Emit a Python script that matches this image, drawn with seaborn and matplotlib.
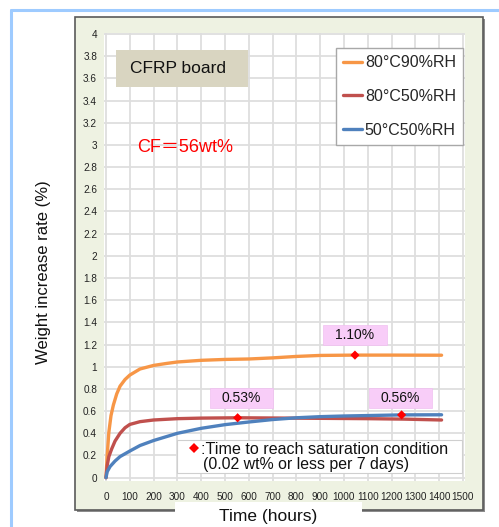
import matplotlib
matplotlib.use("Agg")
import matplotlib.pyplot as plt
from matplotlib.patches import Rectangle
from matplotlib.lines import Line2D
import seaborn as sns
import pandas as pd

# ---------------- data ----------------
t_orange = [0, 5, 12, 21, 31, 45, 59, 80, 100, 143, 200, 255, 300, 400, 500, 600, 700, 800, 900, 1046, 1200, 1410]
v_orange = [0, 0.20, 0.41, 0.56, 0.655, 0.755, 0.825, 0.885, 0.925, 0.98, 1.012, 1.03, 1.043, 1.058, 1.066, 1.07, 1.08, 1.093, 1.102, 1.105, 1.105, 1.104]

t_red = [0, 5, 12, 24, 38, 59, 80, 100, 143, 200, 300, 400, 553, 700, 900, 1100, 1250, 1410]
v_red = [0, 0.11, 0.19, 0.26, 0.33, 0.40, 0.45, 0.48, 0.505, 0.52, 0.532, 0.537, 0.54, 0.538, 0.535, 0.532, 0.528, 0.52]

t_blue = [0, 5, 17, 38, 59, 100, 143, 200, 300, 400, 500, 600, 700, 800, 900, 1000, 1100, 1242, 1410]
v_blue = [0, 0.054, 0.10, 0.15, 0.19, 0.24, 0.29, 0.335, 0.40, 0.445, 0.478, 0.502, 0.524, 0.54, 0.55, 0.556, 0.56, 0.566, 0.567]

series_names = ["80°C90%RH", "80°C50%RH", "50°C50%RH"]
series_colors = ["#F79646", "#C0504D", "#4F81BD"]

sat_t = [553, 1046, 1242]
sat_v = [0.54, 1.105, 0.566]
sat_labels = ["0.53%", "1.10%", "0.56%"]
label_t = [569, 1046, 1237]
label_v = [0.718, 1.285, 0.718]

x_ticks = list(range(0, 1501, 100))
y_ticks = [round(0.2 * i, 1) for i in range(21)]

# ---------------- figure ----------------
sns.set_style("white")
plt.rcParams["font.family"] = ["Liberation Sans", "DejaVu Sans"]

W, H = 499, 527
fig = plt.figure(figsize=(W / 100, H / 100), dpi=100)
fx = lambda px: px / W
fy = lambda py: 1 - py / H

# outer light-blue frame lines
fig.add_artist(Line2D([fx(10.5), fx(10.5)], [fy(9.5), 0], color="#9ecbff", lw=2.2))
fig.add_artist(Line2D([fx(10.5), 1], [fy(9.5), fy(9.5)], color="#9ecbff", lw=2.2))

# chart panel with shadow
fig.add_artist(Rectangle((fx(77), fy(512)), fx(483) - fx(75), fy(17) - fy(510),
                         transform=fig.transFigure, facecolor="#8c8c8c", edgecolor="none", zorder=0))
fig.add_artist(Rectangle((fx(75), fy(510)), fx(483) - fx(75), fy(17) - fy(510),
                         transform=fig.transFigure, facecolor="#eef2e2", edgecolor="#5a5a5a", lw=1.2, zorder=0.5))

ax = fig.add_axes([fx(104), fy(481), fx(465) - fx(104), fy(33) - fy(481)])
ax.set_facecolor("white")
ax.set_zorder(1)

rows = []
for name, ts, vs in zip(series_names, [t_orange, t_red, t_blue], [v_orange, v_red, v_blue]):
    for t, v in zip(ts, vs):
        rows.append({"time": t, "value": v, "series": name})
df = pd.DataFrame(rows)

sns.lineplot(data=df, x="time", y="value", hue="series", hue_order=series_names,
             palette=series_colors, linewidth=2.4, ax=ax, sort=True, estimator=None)

sns.scatterplot(x=sat_t, y=sat_v, marker="D", color="#ff0000", s=22, edgecolor="none",
                ax=ax, zorder=5, legend=False)

ax.set_xlim(-8.4, 1508.4)
ax.set_ylim(-0.03, 4.009)
ax.set_xticks(x_ticks)
ax.set_yticks(y_ticks)
ax.set_xticklabels([str(v) for v in x_ticks])
ax.set_yticklabels([f"{v:g}" for v in y_ticks])
ax.grid(True, color="#dedede", lw=1.3)
ax.set_axisbelow(True)
for s in ax.spines.values():
    s.set_visible(False)
ax.tick_params(axis="both", length=0, labelsize=7.2, colors="#222222")
ax.tick_params(axis="x", pad=8)
ax.tick_params(axis="y", pad=5)
ax.set_xlabel("")
ax.set_ylabel("")

# pink value boxes
for tx, vy, lab in zip(label_t, label_v, sat_labels):
    ax.add_patch(Rectangle((tx - 134, vy - 0.09), 268, 0.18, facecolor="#f8cdf8",
                           edgecolor="#f0c0f0", lw=0.5, zorder=3))
    ax.text(tx, vy, lab, ha="center", va="center", fontsize=10, color="#111111", zorder=4)

# legend
leg = ax.legend(loc="upper right", bbox_to_anchor=(fx(463), fy(48)), bbox_transform=fig.transFigure,
                borderaxespad=0, fontsize=11.5, frameon=True, fancybox=False, framealpha=1,
                edgecolor="#a8a8a8", handlelength=1.15, handletextpad=0.2, labelspacing=1.17,
                borderpad=0.45, title=None)
leg.get_frame().set_linewidth(1.0)
for line in leg.get_lines():
    line.set_linewidth(2.4)

# CFRP board box
fig.add_artist(Rectangle((fx(116), fy(87)), fx(248) - fx(116), fy(50) - fy(87),
                         transform=fig.transFigure, facecolor="#d9d5c1", edgecolor="none", zorder=3))
fig.text(fx(130), fy(69), "CFRP board", fontsize=12.5, color="#111111", ha="left", va="center", zorder=4)

fig.text(fx(137), fy(147), "CF＝56wt%", fontsize=13, color="#ff0000", ha="left", va="center",
         family=["Liberation Sans", "Noto Sans CJK JP", "DejaVu Sans"], zorder=4)

# saturation legend box
fig.add_artist(Rectangle((fx(177), fy(473)), fx(462) - fx(177), fy(440) - fy(473),
                         transform=fig.transFigure, facecolor="white", edgecolor="#cfcfcf", lw=0.8, zorder=3))
fig.add_artist(Line2D([fx(194)], [fy(448)], marker="D", color="#ff0000", markersize=5.5,
                      markeredgewidth=0, transform=fig.transFigure, zorder=4))
fig.text(fx(201), fy(449), ":Time to reach saturation condition", fontsize=11.6, color="#111111",
         ha="left", va="center", zorder=4)
fig.text(fx(203), fy(464.5), "(0.02 wt% or less per 7 days)", fontsize=11.4, color="#111111",
         ha="left", va="center", zorder=4)

# axis titles
fig.add_artist(Rectangle((fx(175), 0), fx(362) - fx(175), fy(502),
                         transform=fig.transFigure, facecolor="white", edgecolor="none", zorder=2))
fig.text(fx(268), fy(517), "Time (hours)", fontsize=12.5, color="#111111", ha="center", va="center", zorder=4)
fig.text(fx(44), fy(272), "Weight increase rate (%)", fontsize=12, color="#111111", ha="center",
         va="center", rotation=90, zorder=4)

fig.savefig("out.png", dpi=100, facecolor="white")
